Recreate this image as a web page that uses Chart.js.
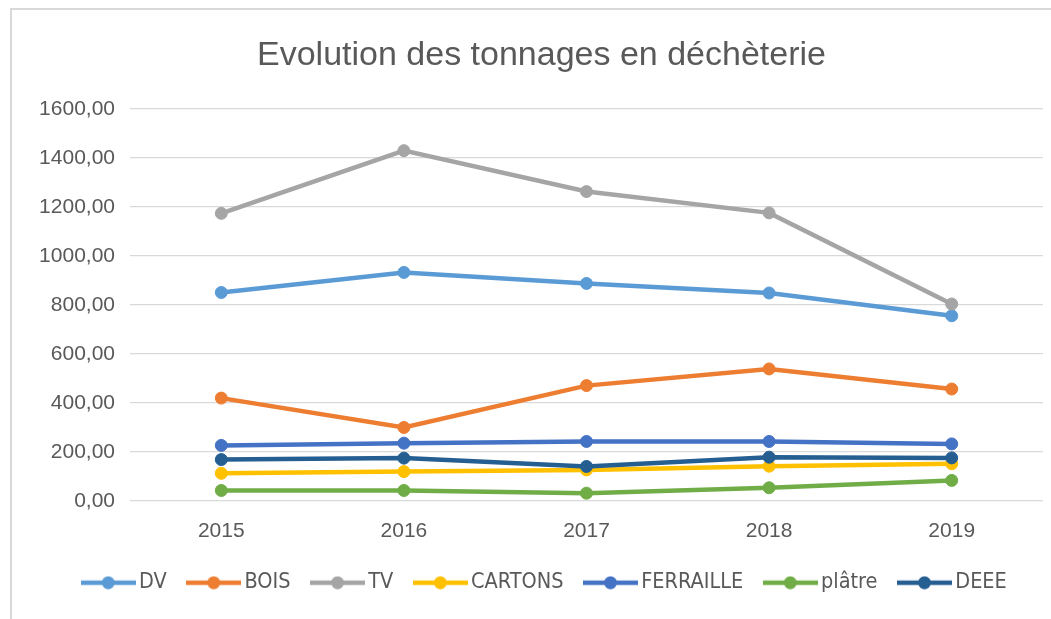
<!DOCTYPE html>
<html>
<head>
<meta charset="utf-8">
<script src="https://cdn.jsdelivr.net/npm/chart.js@4/dist/chart.umd.min.js"></script>
<style>
  html, body { margin: 0; padding: 0; background: #ffffff; }
  #wrap { position: relative; width: 1051px; height: 619px; overflow: hidden; }
  #frame { position: absolute; left: 10px; top: 8px; width: 1100px; height: 700px; border: 2px solid #D9D9D9; box-sizing: border-box; }
  #c { position: absolute; left: 0; top: 0; }
</style>
</head>
<body>
<div id="wrap">
  <div id="frame"></div>
  <canvas id="c" width="1051" height="619"></canvas>
</div>
<script>
const years = ['2015', '2016', '2017', '2018', '2019'];
const seriesNames = ['DV', 'BOIS', 'TV', 'CARTONS', 'FERRAILLE', 'plâtre', 'DEEE'];
const dv        = [851, 933, 888, 849, 756];
const bois      = [420, 300, 471, 539, 457];
const tv        = [1174, 1430, 1263, 1176, 804];
const cartons   = [113, 120, 127, 142, 152];
const ferraille = [227, 236, 243, 243, 233];
const platre    = [43, 43, 32, 54, 84];
const deee      = [169, 175, 141, 179, 176];
const yTicks    = [0, 200, 400, 600, 800, 1000, 1200, 1400, 1600];
const titleText = 'Evolution des tonnages en déchèterie';

const seriesValues = [dv, bois, tv, cartons, ferraille, platre, deee];
const colors = ['#5B9BD5', '#ED7D31', '#A5A5A5', '#FFC000', '#4472C4', '#70AD47', '#255E91'];

function legendImage(color) {
  const cv = document.createElement('canvas');
  cv.width = 55; cv.height = 14;
  const g = cv.getContext('2d');
  g.strokeStyle = color; g.lineWidth = 4.5; g.lineCap = 'butt';
  g.beginPath(); g.moveTo(0, 7); g.lineTo(55, 7); g.stroke();
  g.fillStyle = color;
  g.beginPath(); g.arc(27.5, 7, 6.5, 0, Math.PI * 2); g.fill();
  return cv;
}
const legendImgs = colors.map(legendImage);

const datasets = seriesNames.map((name, i) => ({
  label: name,
  data: seriesValues[i],
  borderColor: colors[i],
  backgroundColor: colors[i],
  pointBackgroundColor: colors[i],
  pointBorderColor: colors[i],
  borderWidth: 4.5,
  pointRadius: 6,
  pointBorderWidth: 1,
  pointHoverRadius: 6,
  tension: 0,
  order: -i
}));

const fmt = v => Number(v).toFixed(2).replace('.', ',');

const shiftLegend = {
  id: 'shiftLegend',
  afterLayout(chart) {
    if (chart.legend) { chart.legend.left += 6; chart.legend.right += 6; }
  }
};

new Chart(document.getElementById('c'), {
  type: 'line',
  data: { labels: years, datasets: datasets },
  plugins: [shiftLegend],
  options: {
    responsive: false,
    animation: false,
    events: [],
    layout: { padding: { left: 40, right: 8, top: 0, bottom: 15.5 } },
    plugins: {
      tooltip: { enabled: false },
      title: {
        display: true,
        text: titleText,
        color: '#595959',
        font: { family: "'Liberation Sans', Arial, sans-serif", size: 34, weight: 'normal', lineHeight: 1.2 },
        padding: { top: 35, bottom: 33.2 }
      },
      legend: {
        position: 'bottom',
        labels: {
          color: '#595959',
          font: { family: "'DejaVu Sans Condensed', 'Liberation Sans', sans-serif", size: 21.5 },
          usePointStyle: true,
          pointStyleWidth: 40,
          boxHeight: 14,
          padding: 27,
          generateLabels: (chart) => chart.data.datasets.map((ds, i) => ({
            text: ds.label,
            fillStyle: ds.borderColor,
            strokeStyle: ds.borderColor,
            lineWidth: 0,
            pointStyle: legendImgs[i],
            hidden: false,
            datasetIndex: i,
            fontColor: '#595959'
          }))
        }
      }
    },
    scales: {
      x: {
        offset: true,
        grid: { display: false, drawTicks: false },
        border: { display: false },
        ticks: {
          color: '#595959',
          padding: 17.4,
          font: { family: "'Liberation Sans', Arial, sans-serif", size: 21, lineHeight: 1.2 }
        },
        afterFit: (s) => { s.height = 44; }
      },
      y: {
        min: 0,
        max: 1600,
        afterBuildTicks: (s) => { s.ticks = yTicks.map(v => ({ value: v })); },
        grid: { color: '#D9D9D9', lineWidth: 1.3, drawTicks: false },
        border: { display: false },
        ticks: {
          color: '#595959',
          padding: 15,
          font: { family: "'Liberation Sans', Arial, sans-serif", size: 21 },
          callback: (v) => fmt(v)
        },
        afterFit: (s) => { s.width = 90; }
      }
    }
  }
});
</script>
</body>
</html>
